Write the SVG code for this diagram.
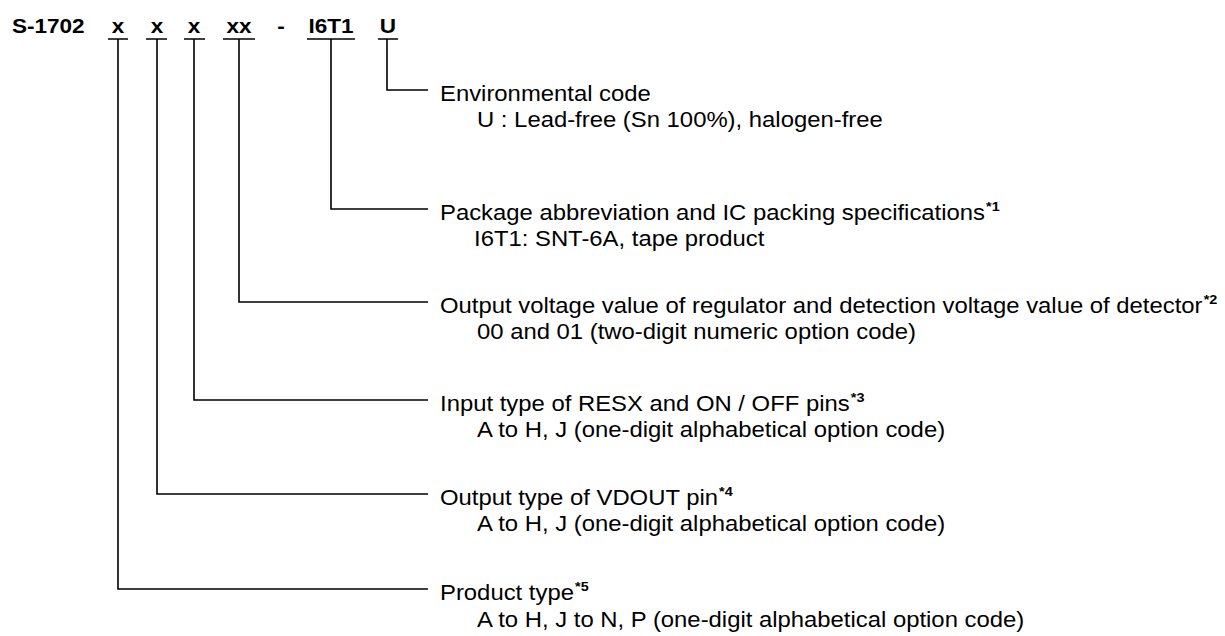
<svg xmlns="http://www.w3.org/2000/svg" width="1225" height="636" viewBox="0 0 1225 636">
<style>
.t{font-family:"Liberation Sans",Arial,sans-serif;font-size:21.5px;fill:#000}
.h{font-family:"Liberation Sans",Arial,sans-serif;font-size:20.5px;font-weight:bold;fill:#000}
.s{font-size:13px;font-weight:bold}
.ln{fill:none;stroke:#000;stroke-width:1.6}
</style>
<rect width="1225" height="636" fill="#fff"/>
<g id="title">
<text class="h" transform="translate(12,33) scale(1.1,1)">S-1702</text>
<text class="h" text-anchor="middle" transform="translate(118,33) scale(1.1,1)">x</text>
<text class="h" text-anchor="middle" transform="translate(157,33) scale(1.1,1)">x</text>
<text class="h" text-anchor="middle" transform="translate(194,33) scale(1.1,1)">x</text>
<text class="h" text-anchor="middle" transform="translate(239,33) scale(1.1,1)">xx</text>
<text class="h" text-anchor="middle" transform="translate(281,33) scale(1.1,1)">-</text>
<text class="h" text-anchor="middle" transform="translate(331,33) scale(1.1,1)">I6T1</text>
<text class="h" text-anchor="middle" transform="translate(388,33) scale(1.1,1)">U</text>
<path class="ln" d="M108 39H128M146 39H167M184 39H205M223 39H255M307 39H355M378 39H398"/>
</g>
<g id="connectors">
<path class="ln" d="M387 39V90H428"/>
<path class="ln" d="M331 39V209H428"/>
<path class="ln" d="M239 39V302H428"/>
<path class="ln" d="M194 39V400H428"/>
<path class="ln" d="M157 39V494H428"/>
<path class="ln" d="M118 39V589H428"/>
</g>
<g id="env">
<text class="t" transform="translate(440,101) scale(1.11,1)">Environmental code</text>
<text class="t" transform="translate(477,127) scale(1.11,1)">U : Lead-free (Sn 100%), halogen-free</text>
</g>
<g id="package">
<text class="t" transform="translate(440,220) scale(1.11,1)">Package abbreviation and IC packing specifications<tspan class="s" dx="1" dy="-9">*1</tspan></text>
<text class="t" transform="translate(474,246) scale(1.11,1)">I6T1: SNT-6A, tape product</text>
</g>
<g id="voltage">
<text class="t" transform="translate(440,313) scale(1.11,1)">Output voltage value of regulator and detection voltage value of detector<tspan class="s" dx="1" dy="-9">*2</tspan></text>
<text class="t" transform="translate(477,339) scale(1.11,1)">00 and 01 (two-digit numeric option code)</text>
</g>
<g id="input">
<text class="t" transform="translate(440,411) scale(1.11,1)">Input type of RESX and ON / OFF pins<tspan class="s" dx="1" dy="-9">*3</tspan></text>
<text class="t" transform="translate(477,437) scale(1.11,1)">A to H, J (one-digit alphabetical option code)</text>
</g>
<g id="vdout">
<text class="t" transform="translate(440,505) scale(1.11,1)">Output type of VDOUT pin<tspan class="s" dx="1" dy="-9">*4</tspan></text>
<text class="t" transform="translate(477,531) scale(1.11,1)">A to H, J (one-digit alphabetical option code)</text>
</g>
<g id="product">
<text class="t" transform="translate(440,600) scale(1.11,1)">Product type<tspan class="s" dx="1" dy="-9">*5</tspan></text>
<text class="t" transform="translate(477,627) scale(1.11,1)">A to H, J to N, P (one-digit alphabetical option code)</text>
</g>
</svg>
